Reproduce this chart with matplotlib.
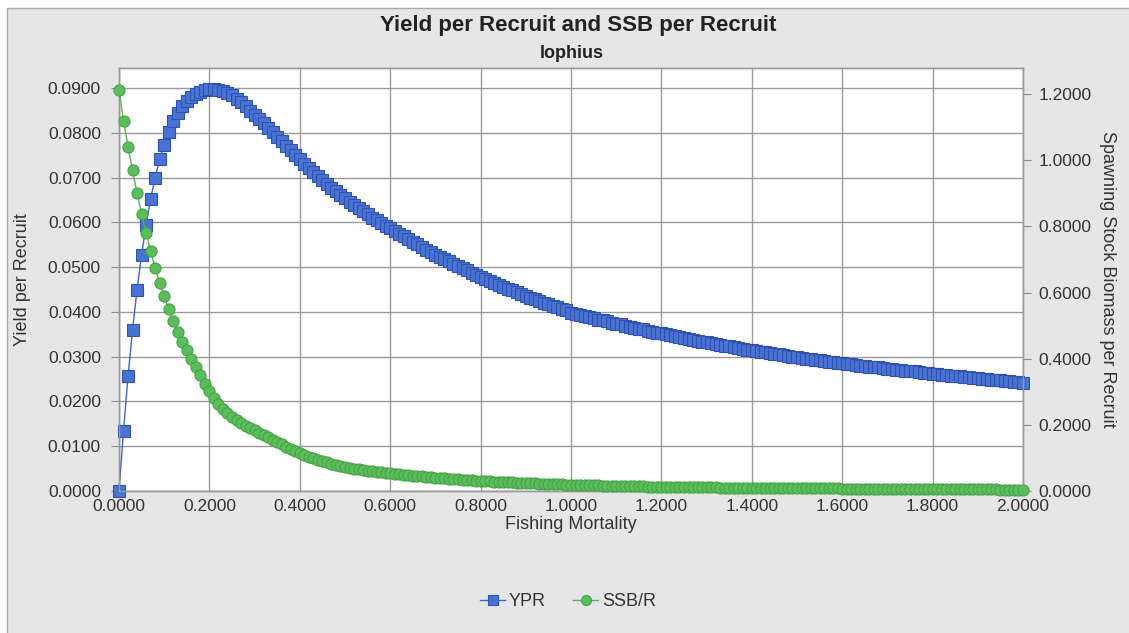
import numpy as np
import matplotlib.pyplot as plt
from matplotlib.patches import Rectangle
from matplotlib.ticker import FormatStrFormatter

# Fishing mortality 0.00 .. 2.00 in 0.01 steps
fishing_mortality = [round(i * 0.01, 2) for i in range(201)]

# yield per recruit
ypr = [
    0.0000, 0.0135, 0.0256, 0.0360, 0.0450, 0.0528, 0.0595, 0.0653, 0.0700, 0.0742,
    0.0774, 0.0803, 0.0826, 0.0845, 0.0860, 0.0872, 0.0881, 0.0887, 0.0892, 0.0895,
    0.0897, 0.0897, 0.0896, 0.0893, 0.0889, 0.0884, 0.0876, 0.0868, 0.0859, 0.0850,
    0.0841, 0.0831, 0.0821, 0.0811, 0.0801, 0.0791, 0.0781, 0.0771, 0.0761, 0.0751,
    0.0741, 0.0731, 0.0722, 0.0713, 0.0704, 0.0695, 0.0686, 0.0678, 0.0670, 0.0662,
    0.0654, 0.0646, 0.0639, 0.0632, 0.0625, 0.0618, 0.0611, 0.0605, 0.0599, 0.0593,
    0.0587, 0.0581, 0.0575, 0.0569, 0.0563, 0.0557, 0.0551, 0.0545, 0.0539, 0.0534,
    0.0528, 0.0523, 0.0518, 0.0513, 0.0508, 0.0503, 0.0498, 0.0493, 0.0488, 0.0483,
    0.0478, 0.0474, 0.0469, 0.0465, 0.0460, 0.0456, 0.0452, 0.0448, 0.0444, 0.0440,
    0.0436, 0.0432, 0.0428, 0.0424, 0.0421, 0.0417, 0.0414, 0.0410, 0.0407, 0.0404,
    0.0398, 0.0396, 0.0393, 0.0391, 0.0388, 0.0386, 0.0383, 0.0381, 0.0379, 0.0376,
    0.0374, 0.0372, 0.0369, 0.0367, 0.0365, 0.0363, 0.0361, 0.0358, 0.0356, 0.0354,
    0.0352, 0.0350, 0.0348, 0.0346, 0.0344, 0.0342, 0.0340, 0.0338, 0.0336, 0.0334,
    0.0332, 0.0330, 0.0328, 0.0326, 0.0325, 0.0323, 0.0321, 0.0319, 0.0318, 0.0316,
    0.0314, 0.0313, 0.0311, 0.0310, 0.0308, 0.0306, 0.0305, 0.0303, 0.0302, 0.0300,
    0.0299, 0.0298, 0.0296, 0.0295, 0.0293, 0.0292, 0.0291, 0.0289, 0.0288, 0.0287,
    0.0285, 0.0284, 0.0283, 0.0282, 0.0280, 0.0279, 0.0278, 0.0277, 0.0276, 0.0274,
    0.0273, 0.0272, 0.0271, 0.0270, 0.0269, 0.0268, 0.0267, 0.0265, 0.0264, 0.0263,
    0.0262, 0.0261, 0.0260, 0.0259, 0.0258, 0.0257, 0.0256, 0.0255, 0.0254, 0.0253,
    0.0252, 0.0251, 0.0250, 0.0249, 0.0248, 0.0247, 0.0246, 0.0245, 0.0244, 0.0243,
    0.0242,
]

# spawning stock biomass per recruit
ssb_r = [
    1.213, 1.119, 1.041, 0.970, 0.900, 0.839, 0.779, 0.726, 0.673, 0.629,
    0.589, 0.549, 0.514, 0.481, 0.452, 0.425, 0.399, 0.375, 0.350, 0.325,
    0.302, 0.282, 0.264, 0.249, 0.236, 0.223, 0.215, 0.206, 0.198, 0.190,
    0.183, 0.176, 0.169, 0.163, 0.155, 0.148, 0.141, 0.134, 0.127, 0.120,
    0.114, 0.109, 0.104, 0.099, 0.095, 0.091, 0.087, 0.083, 0.079, 0.076,
    0.073, 0.070, 0.068, 0.066, 0.064, 0.062, 0.060, 0.058, 0.056, 0.054,
    0.053, 0.051, 0.050, 0.049, 0.047, 0.046, 0.045, 0.044, 0.042, 0.041,
    0.040, 0.039, 0.038, 0.037, 0.036, 0.035, 0.034, 0.033, 0.032, 0.031,
    0.0300, 0.0295, 0.0290, 0.0285, 0.0280, 0.0270, 0.0265, 0.0260, 0.0250, 0.0245,
    0.0240, 0.0235, 0.0230, 0.0225, 0.0220, 0.0215, 0.0210, 0.0205, 0.0200, 0.0195,
    0.0190, 0.0186, 0.0183, 0.0179, 0.0176, 0.0172, 0.0169, 0.0166, 0.0163, 0.0160,
    0.0157, 0.0154, 0.0151, 0.0148, 0.0145, 0.0142, 0.0139, 0.0136, 0.0133, 0.0130,
    0.0128, 0.0126, 0.0124, 0.0122, 0.0121, 0.0119, 0.0117, 0.0116, 0.0114, 0.0112,
    0.0111, 0.0109, 0.0108, 0.0106, 0.0105, 0.0104, 0.0102, 0.0101, 0.0100, 0.0098,
    0.0097, 0.0096, 0.0095, 0.0094, 0.0093, 0.0092, 0.0090, 0.0089, 0.0088, 0.0087,
    0.0086, 0.0085, 0.0084, 0.0083, 0.0082, 0.0081, 0.0080, 0.0079, 0.0078, 0.0077,
    0.0076, 0.0075, 0.0074, 0.0073, 0.0072, 0.0071, 0.0070, 0.0069, 0.0068, 0.0067,
    0.0066, 0.0065, 0.0064, 0.0063, 0.0062, 0.0061, 0.0060, 0.0059, 0.0058, 0.0057,
    0.0056, 0.0055, 0.0055, 0.0054, 0.0053, 0.0052, 0.0052, 0.0051, 0.0050, 0.0049,
    0.0049, 0.0048, 0.0047, 0.0047, 0.0046, 0.0045, 0.0045, 0.0044, 0.0044, 0.0043,
    0.0043,
]

x_ticks = [0.0, 0.2, 0.4, 0.6, 0.8, 1.0, 1.2, 1.4, 1.6, 1.8, 2.0]
left_ticks = [0.00, 0.01, 0.02, 0.03, 0.04, 0.05, 0.06, 0.07, 0.08, 0.09]
right_ticks = [0.0, 0.2, 0.4, 0.6, 0.8, 1.0, 1.2]

plt.rcParams['font.family'] = ['Liberation Sans', 'DejaVu Sans']

bg = '#e6e6e6'
grid_c = '#9a9a9a'
text_c = '#333333'

fig = plt.figure(figsize=(11.29, 6.33), dpi=100, facecolor='white')
# grey chart panel with a thin frame, inset a few pixels from the top-left
panel = Rectangle((7 / 1129, -0.01), 1.0, 1 - 8 / 633 + 0.01,
                  transform=fig.transFigure, facecolor=bg,
                  edgecolor='#a8a8a8', lw=1.0, zorder=-10)
fig.add_artist(panel)

ax = fig.add_axes([0.1054, 0.2243, 0.8007, 0.6683])
ax.set_facecolor('white')

ax.plot(fishing_mortality, ypr, color='#3d64c8', lw=1.0, marker='s', markersize=8,
        markerfacecolor='#4a72d4', markeredgecolor='#2f52ad', markeredgewidth=0.8,
        clip_on=False, zorder=3, label='YPR')

ax2 = ax.twinx()
ax2.plot(fishing_mortality, ssb_r, color='#58b358', lw=1.0, marker='o', markersize=8,
         markerfacecolor='#5cbd5c', markeredgecolor='#45a345', markeredgewidth=0.8,
         clip_on=False, zorder=3, label='SSB/R')

ax.set_xlim(0, 2.0)
ax.set_ylim(0, 0.0945)
ax2.set_ylim(0, 1.279)

ax.set_xticks(x_ticks)
ax.set_yticks(left_ticks)
ax2.set_yticks(right_ticks)
for a in (ax, ax2):
    a.xaxis.set_major_formatter(FormatStrFormatter('%.4f'))
    a.yaxis.set_major_formatter(FormatStrFormatter('%.4f'))
    a.tick_params(labelsize=12.5, colors=text_c, length=6, width=0.8)
    a.tick_params(axis='y', color='#888888')
    for s in a.spines.values():
        s.set_color(grid_c)
        s.set_linewidth(1.0)
ax.tick_params(axis='x', length=0, pad=6)
ax.tick_params(axis='y', pad=7)
ax2.tick_params(axis='y', pad=5)

ax.grid(True, color=grid_c, lw=1.0)
ax.set_axisbelow(True)

ax.set_xlabel('Fishing Mortality', fontsize=13, color=text_c, labelpad=1)
ax.set_ylabel('Yield per Recruit', fontsize=13, color=text_c, labelpad=12)
ax2.set_ylabel('Spawning Stock Biomass per Recruit', fontsize=13, color=text_c,
               rotation=270, labelpad=18)

fig.text(0.512, 0.960, 'Yield per Recruit and SSB per Recruit', ha='center', va='center',
         fontsize=16, fontweight='bold', color='#222222')
fig.text(0.506, 0.915, 'lophius', ha='center', va='center',
         fontsize=13, fontweight='bold', color='#222222')

h1, l1 = ax.get_legend_handles_labels()
h2, l2 = ax2.get_legend_handles_labels()
fig.legend(h1 + h2, l1 + l2, loc='center', bbox_to_anchor=(0.503, 0.049), ncol=2,
           frameon=False, fontsize=13, handlelength=1.4, columnspacing=1.5,
           handletextpad=0.2, labelcolor=text_c, markerscale=0.9)

fig.savefig('out.png', dpi=100, facecolor='white')
